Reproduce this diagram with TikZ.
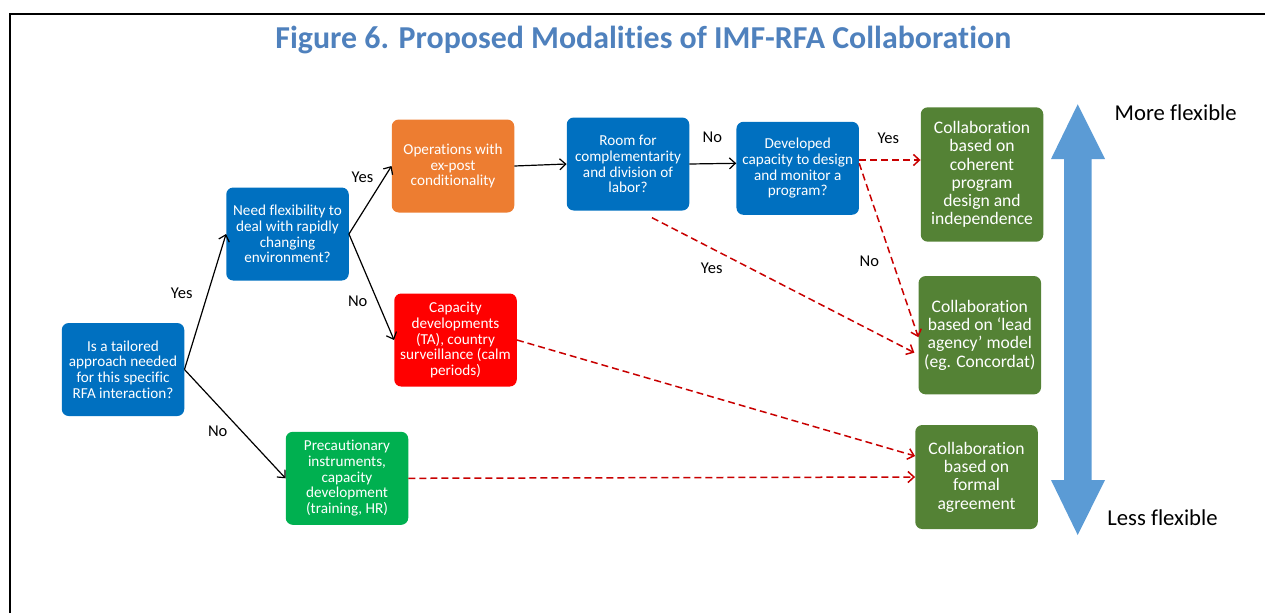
\documentclass[tikz,border=0pt]{standalone}
\usepackage{fontspec}
\setmainfont{Carlito}[Ligatures=NoCommon]
\usetikzlibrary{arrows.meta}
\definecolor{qblue}{HTML}{0070C0}
\definecolor{opsorange}{HTML}{ED7D31}
\definecolor{calmred}{HTML}{FF0000}
\definecolor{precgreen}{HTML}{00B050}
\definecolor{resgreen}{HTML}{548235}
\definecolor{flexblue}{HTML}{5B9BD5}
\definecolor{titleblue}{HTML}{4F81BD}
\definecolor{dashred}{HTML}{C80000}
\begin{document}
\begin{tikzpicture}[x=1pt, y=-1pt,
		box/.style={rounded corners=7pt, text=white, align=center, inner sep=2pt, minimum width=122.5pt, minimum height=93pt, font=\fontsize{15.2}{15.7}\selectfont},
		result/.style={box, fill=resgreen, font=\fontsize{17.6}{18.3}\selectfont},
		flow/.style={-{Straight Barb[length=6pt,width=11pt]}, line width=1.2pt},
		alt/.style={flow, dashred, line width=1.5pt, dash pattern=on 7pt off 4pt},
		lbl/.style={font=\fontsize{16.5}{18}\selectfont}]
		\useasboundingbox (0,0) rectangle (1265,613);
		\draw[line width=2pt] (10,613) -- (10,13.5) -- (1265,13.5);
		\node[font=\bfseries\fontsize{31.9}{36}\selectfont, text=titleblue] (title) at (643.3,40.5) {Figure 6. Proposed Modalities of IMF-RFA Collaboration};

		\node[box, fill=qblue] (tailored) at (123,369.5) {Is a tailored\\approach needed\\for this specific\\RFA interaction?};
		\node[box, fill=qblue] (flexneed) at (287.5,234) {Need flexibility to\\deal with rapidly\\changing\\environment?};
		\node[box, fill=opsorange] (expost) at (453,166) {Operations with\\ex-post\\conditionality};
		\node[box, fill=qblue] (room) at (628,164) {Room for\\complementarity\\and division of\\labor?};
		\node[box, fill=qblue] (capdesign) at (797.7,168.3) {Developed\\capacity to design\\and monitor a\\program?};
		\node[box, fill=calmred] (calm) at (455.5,340) {Capacity\\developments\\(TA), country\\surveillance (calm\\periods)};
		\node[box, fill=precgreen] (precaution) at (347,478.3) {Precautionary\\instruments,\\capacity\\development\\(training, HR)};
		\node[result, minimum height=134.4pt] (coherent) at (982,174.5) {Collaboration\\based on\\coherent\\program\\design and\\independence};
		\node[result, minimum height=118.3pt] (lead) at (979.8,335.2) {Collaboration\\based on ‘lead\\agency’ model\\(eg. Concordat)};
		\node[result, minimum height=104pt] (formal) at (976.5,477) {Collaboration\\based on\\formal\\agreement};

		\draw[flow] (tailored.east) -- (flexneed.west);
		\draw[flow] (tailored.east) -- (precaution.west);
		\draw[flow] (flexneed.east) -- (expost.west);
		\draw[flow] (flexneed.east) -- (calm.west);
		\draw[flow] (expost.east) -- (room.west);
		\draw[flow] (room.east) -- ([yshift=5pt]capdesign.west);
		\draw[alt] ([yshift=8.3pt]capdesign.east) -- ([yshift=8.3pt]capdesign.east -| coherent.west);
		\draw[alt] ([yshift=5pt]capdesign.east) -- ([yshift=-2pt]lead.west);
		\draw[alt] ([xshift=24pt,yshift=-7pt]room.south) -- ([xshift=-4pt,yshift=-17.5pt]lead.west);
		\draw[alt] (calm.east) -- ([yshift=21pt]formal.west);
		\draw[alt] (precaution.east) -- (formal.west);

		\node[lbl] (yestailored) at (181.7,293.3) {Yes};
		\node[lbl] (notailored) at (217.7,431.7) {No};
		\node[lbl] (yesflex) at (362.5,177) {Yes};
		\node[lbl] (noflex) at (357.7,301.7) {No};
		\node[lbl] (noroom) at (712.3,137.3) {No};
		\node[lbl] (yesroom) at (711.7,268) {Yes};
		\node[lbl] (yesdesign) at (888.3,138.3) {Yes};
		\node[lbl] (nodesign) at (869.3,261) {No};

		% flexibility scale
		\fill[flexblue] (1077.7,104.3) -- (1105,159) -- (1091.7,159) -- (1091.7,480) -- (1105,480) -- (1077.7,535) -- (1051,480) -- (1064,480) -- (1064,159) -- (1051,159) -- cycle;
		\node[font=\fontsize{22.7}{24}\selectfont] (more) at (1175.7,112.3) {More flexible};
		\node[font=\fontsize{22.7}{24}\selectfont] (less) at (1162.5,517.7) {Less flexible};
	\end{tikzpicture}
\end{document}
